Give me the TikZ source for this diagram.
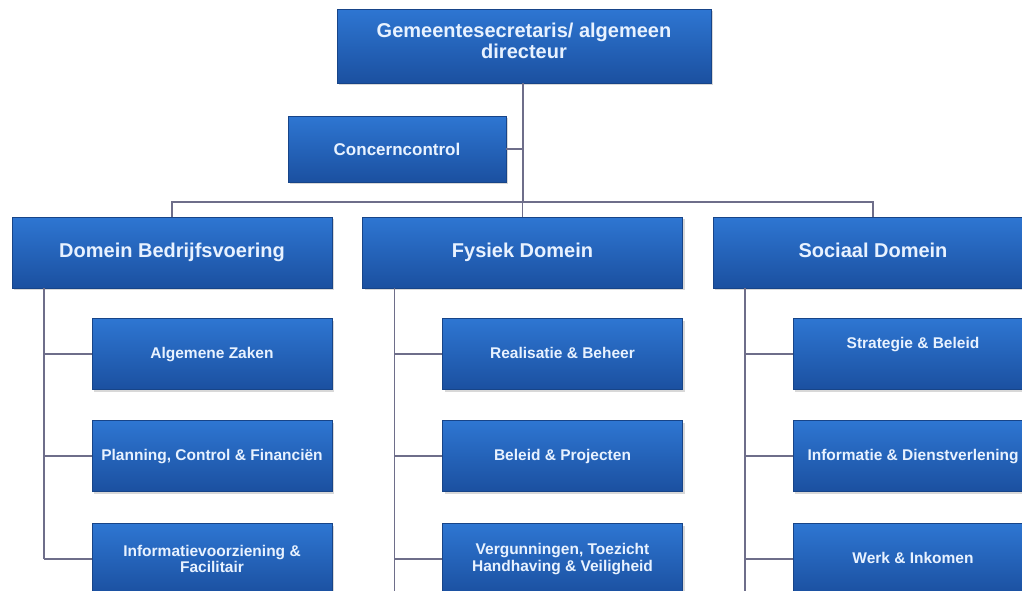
\documentclass[tikz,border=0pt]{standalone}
\usepackage{fontspec}
\setmainfont{Liberation Sans}
\usepackage{tikz}
\usetikzlibrary{positioning,shadows}
\definecolor{boxtop}{RGB}{46,118,210}
\definecolor{boxbot}{RGB}{27,80,160}
\definecolor{linkc}{RGB}{110,110,138}
\definecolor{txtc}{RGB}{232,242,255}

\begin{document}
\begin{tikzpicture}[x=1pt,y=-1pt,
  box/.style={rectangle,inner sep=2pt,top color=boxtop,bottom color=boxbot,draw=boxbot!85!black,line width=0.5pt,
    text=txtc,align=center,drop shadow={shadow xshift=2pt,shadow yshift=-2pt,opacity=0.3}},
  headbox/.style={box,minimum width=320pt,minimum height=71pt,text height=14.5pt,text depth=4pt,font=\fontsize{20}{21}\selectfont\bfseries},
  unitbox/.style={box,minimum width=240pt,minimum height=71pt,font=\fontsize{15.5}{16.5}\selectfont\bfseries},
  one/.style={text height=11.5pt,text depth=3.2pt},
  link/.style={draw=linkc,line width=1.5pt}]
\useasboundingbox (0,0) rectangle (1022,590);
\fill[white] (0,0) rectangle (1022,590);
\clip (0,0) rectangle (1022,590);
% top of the organisation
\node[box,minimum width=374pt,minimum height=74pt,text height=36pt,text depth=10.5pt,font=\fontsize{20}{21}\selectfont\bfseries] (top) at (524,46) {Gemeentesecretaris/ algemeen\\directeur};
\node[box,minimum width=218pt,minimum height=66pt,font=\fontsize{17}{18}\selectfont\bfseries] (cc) at (397,149) {Concerncontrol};
\coordinate (bus) at (523,202);
% domains
\node[headbox] (d1) at (172,252.5) {Domein Bedrijfsvoering};
\node[headbox] (d2) at (522.5,252.5) {Fysiek Domein};
\node[headbox] (d3) at (873,252.5) {Sociaal Domein};
% units
\node[unitbox,one] (a1) at (212,354) {Algemene Zaken};
\node[unitbox,one] (a2) at (212,456) {Planning, Control \& Financiën};
\node[unitbox] (a3) at (212,559) {Informatievoorziening \&\\Facilitair};
\node[unitbox,one] (b1) at (562.5,354) {Realisatie \& Beheer};
\node[unitbox,one] (b2) at (562.5,456) {Beleid \& Projecten};
\node[unitbox] (b3) at (562.5,559) {Vergunningen, Toezicht\\Handhaving \& Veiligheid};
\node[unitbox,text depth=23pt] (c1) at (913,354) {Strategie \& Beleid};
\node[unitbox,one] (c2) at (913,456) {Informatie \& Dienstverlening};
\node[unitbox,one] (c3) at (913,559) {Werk \& Inkomen};
% connectors
\draw[link] (top.south -| bus) -- (bus);
\draw[link] (cc.east) -- (cc.east -| bus);
\draw[link] (d1.north) |- (bus) -| (d3.north);
\draw[link] (d2.north) -- (d2.north |- bus);
\foreach \d/\k/\e in {d1/a/0,d2/b/40,d3/c/40}{
  \coordinate (s\d) at ([xshift=32pt]\d.south west);
  \draw[link] (s\d) -- (s\d |- \k3.west) -- ++(0,\e);
  \foreach \r in {1,2,3} \draw[link] (s\d |- \k\r.west) -- (\k\r.west);
}
\end{tikzpicture}
\end{document}
